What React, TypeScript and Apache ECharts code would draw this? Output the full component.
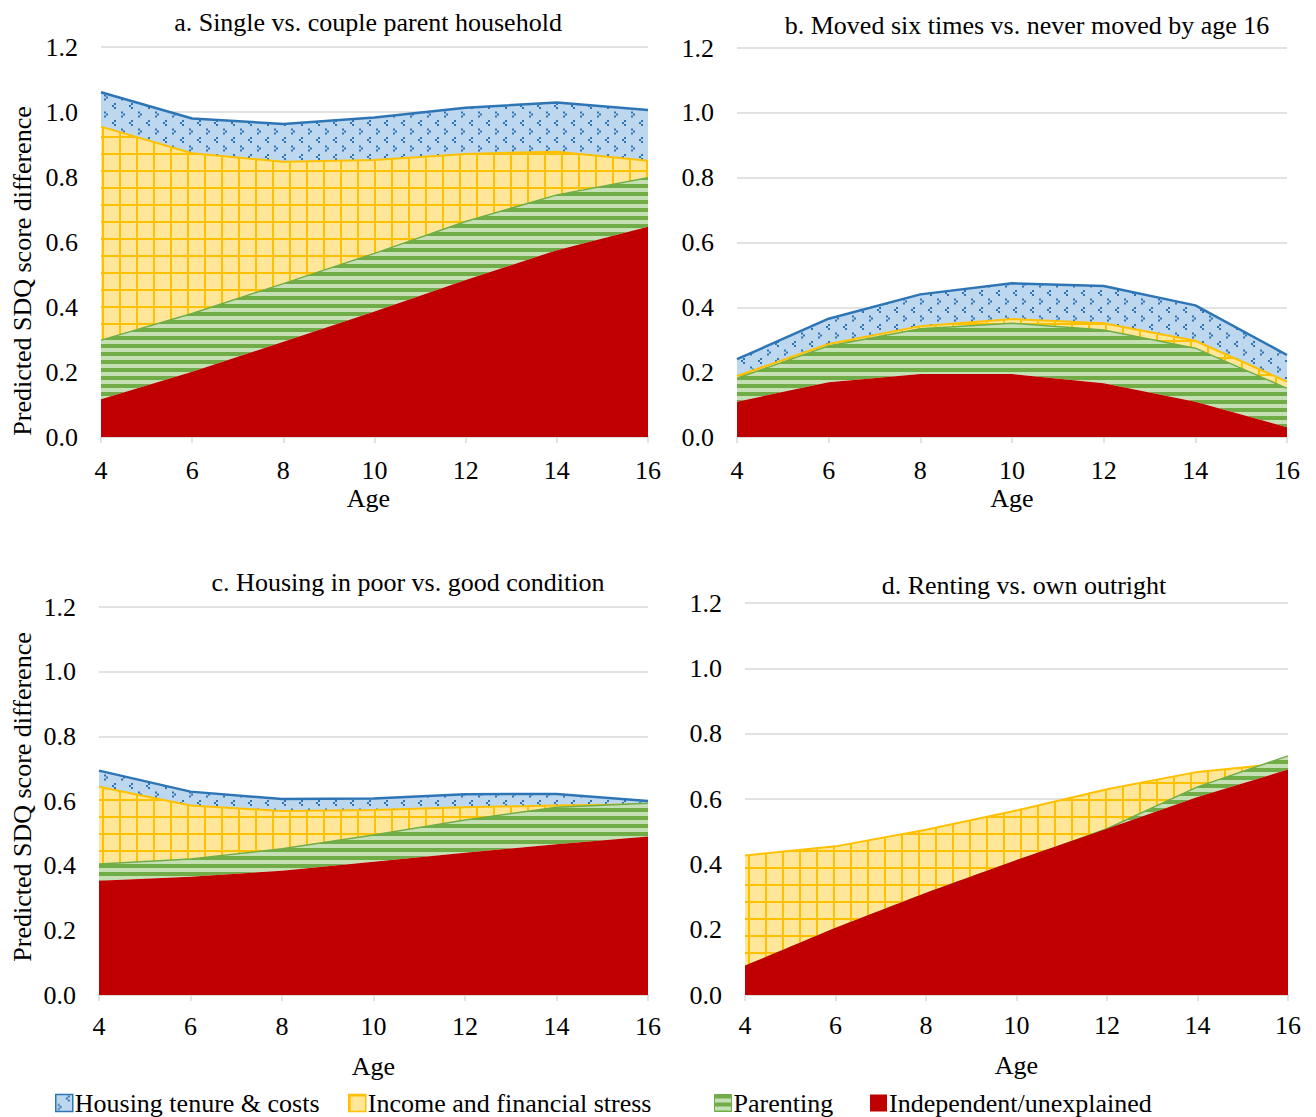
import React, { useEffect, useRef } from 'react';
import * as echarts from 'echarts';

const ages = ['4', '6', '8', '10', '12', '14', '16'];

const seriesNames = [
  'Independent/unexplained',
  'Parenting',
  'Income and financial stress',
  'Housing tenure & costs',
];

const panelTitles = [
  'a. Single vs. couple parent household',
  'b. Moved six times vs. never moved by age 16',
  'c. Housing in poor vs. good condition',
  'd. Renting vs. own outright',
];

const yAxisTitle = 'Predicted SDQ score difference';
const xAxisTitle = 'Age';

// a. Single vs. couple parent household
const independentA = [0.116, 0.201, 0.293, 0.386, 0.483, 0.575, 0.647];
const parentingA = [0.182, 0.179, 0.179, 0.179, 0.18, 0.17, 0.151];
const incomeA = [0.657, 0.493, 0.375, 0.287, 0.208, 0.133, 0.052];
const housingA = [0.106, 0.107, 0.116, 0.131, 0.142, 0.151, 0.156];

// b. Moved six times vs. never moved by age 16
const independentB = [0.109, 0.169, 0.194, 0.194, 0.166, 0.109, 0.03];
const parentingB = [0.072, 0.112, 0.14, 0.157, 0.164, 0.165, 0.12];
const incomeB = [0.007, 0.006, 0.008, 0.013, 0.021, 0.023, 0.021];
const housingB = [0.052, 0.078, 0.098, 0.11, 0.115, 0.109, 0.082];

// c. Housing in poor vs. good condition
const independentC = [0.353, 0.366, 0.384, 0.412, 0.44, 0.466, 0.49];
const parentingC = [0.052, 0.055, 0.068, 0.083, 0.101, 0.115, 0.103];
const incomeC = [0.239, 0.165, 0.117, 0.077, 0.04, 0.005, -0.003];
const housingC = [0.05, 0.043, 0.037, 0.036, 0.04, 0.036, 0.01];

// d. Renting vs. own outright
const independentD = [0.09, 0.206, 0.313, 0.413, 0.509, 0.606, 0.69];
const parentingD = [-0.01, -0.01, -0.01, -0.005, 0.0, 0.031, 0.042];
const incomeD = [0.347, 0.259, 0.203, 0.157, 0.121, 0.046, -0.022];
const housingD = [-0.01, -0.01, -0.01, -0.01, -0.01, -0.01, -0.01];

const panelData = [
  [independentA, parentingA, incomeA, housingA],
  [independentB, parentingB, incomeB, housingB],
  [independentC, parentingC, incomeC, housingC],
  [independentD, parentingD, incomeD, housingD],
];

const FONT = '"Liberation Serif", "Times New Roman", serif';

function makeTile(w: number, h: number, draw: (ctx: CanvasRenderingContext2D) => void) {
  const c = document.createElement('canvas');
  c.width = w;
  c.height = h;
  const ctx = c.getContext('2d') as CanvasRenderingContext2D;
  draw(ctx);
  return { image: c, repeat: 'repeat', imageWidth: w, imageHeight: h } as any;
}

export default function App() {
  const ref = useRef<HTMLDivElement>(null);

  useEffect(() => {
    if (!ref.current) return;

    const bluePattern = makeTile(17, 17, (ctx) => {
      ctx.fillStyle = '#BDD7EE';
      ctx.fillRect(0, 0, 17, 17);
      ctx.fillStyle = '#2E75B6';
      const d = 2;
      // "<"
      ctx.fillRect(12, 1, d, d);
      ctx.fillRect(10, 3, d, d);
      ctx.fillRect(12, 5, d, d);
      // ">"
      ctx.fillRect(2, 9.5, d, d);
      ctx.fillRect(4, 11.5, d, d);
      ctx.fillRect(2, 13.5, d, d);
    });

    const yellowPattern = makeTile(17, 17, (ctx) => {
      ctx.fillStyle = '#FFE699';
      ctx.fillRect(0, 0, 17, 17);
      ctx.fillStyle = '#FFC000';
      ctx.fillRect(0, 0, 2, 17);
      ctx.fillRect(0, 0, 17, 2);
    });

    const greenPattern = makeTile(8, 8, (ctx) => {
      ctx.fillStyle = '#C5E0B4';
      ctx.fillRect(0, 0, 8, 8);
      ctx.fillStyle = '#70AD47';
      ctx.fillRect(0, 0, 8, 4);
    });

    const styles = [
      { fill: '#C00000', line: '#C00000', lineWidth: 0, z: 6 },
      { fill: greenPattern, line: '#70AD47', lineWidth: 1.5, z: 5 },
      { fill: yellowPattern, line: '#FFC000', lineWidth: 2, z: 4 },
      { fill: bluePattern, line: '#2E75B6', lineWidth: 2.5, z: 3 },
    ];

    const grids = [
      { left: 101, top: 47, width: 547, height: 390 },
      { left: 737, top: 48, width: 550, height: 389 },
      { left: 99, top: 607, width: 549, height: 388 },
      { left: 745, top: 603, width: 543, height: 392 },
    ];
    const xLabelMargins = [20, 20, 18, 17];
    const xNameGaps = [48, 48, 58, 57];
    const xNamePadding = [
      [0, 12, 0, 0],
      [0, 0, 0, 0],
      [0, 0, 0, 0],
      [0, 0, 0, 0],
    ];

    const xAxes = grids.map((_, i) => ({
      type: 'category',
      gridIndex: i,
      data: ages,
      boundaryGap: false,
      axisLine: { show: true, lineStyle: { color: '#D9D9D9', width: 1.5 } },
      axisTick: { show: true, length: 6, lineStyle: { color: '#D9D9D9', width: 1.5 } },
      axisLabel: {
        interval: 0,
        color: '#000',
        fontSize: 26,
        fontFamily: FONT,
        margin: xLabelMargins[i],
      },
      splitLine: { show: false },
      name: xAxisTitle,
      nameLocation: 'middle',
      nameGap: xNameGaps[i],
      nameTextStyle: { color: '#000', fontSize: 26, fontFamily: FONT, padding: xNamePadding[i] },
    }));

    const yAxes = grids.map((_, i) => ({
      type: 'value',
      gridIndex: i,
      min: 0,
      max: 1.2,
      interval: 0.2,
      axisLine: { show: false },
      axisTick: { show: false },
      axisLabel: {
        color: '#000',
        fontSize: 26,
        fontFamily: FONT,
        margin: 23,
        formatter: (v: number) => v.toFixed(1),
      },
      splitLine: { show: true, lineStyle: { color: '#D9D9D9', width: 1.5 } },
    }));

    const series: any[] = [];
    panelData.forEach((panel, p) => {
      panel.forEach((values, s) => {
        const st = styles[s];
        series.push({
          type: 'line',
          name: seriesNames[s],
          xAxisIndex: p,
          yAxisIndex: p,
          stack: 'panel' + p,
          stackStrategy: 'all',
          data: values,
          symbol: 'none',
          showSymbol: false,
          z: st.z,
          silent: true,
          itemStyle: { color: st.line },
          lineStyle:
            st.lineWidth > 0
              ? { color: st.line, width: st.lineWidth }
              : { width: 0, opacity: 0 },
          areaStyle: { color: st.fill, opacity: 1 },
          emphasis: { disabled: true },
        });
      });
    });

    const legendPos = [
      { name: 'Housing tenure & costs', left: 55, fill: bluePattern, border: '#2E75B6', bw: 1.5 },
      { name: 'Income and financial stress', left: 348, fill: yellowPattern, border: '#FFC000', bw: 1.5 },
      { name: 'Parenting', left: 714, fill: greenPattern, border: '#70AD47', bw: 1 },
      { name: 'Independent/unexplained', left: 870, fill: '#C00000', border: '#C00000', bw: 0 },
    ];

    const legends = legendPos.map((l) => ({
      left: l.left,
      top: 1090,
      padding: 0,
      icon: 'rect',
      itemWidth: 17,
      itemHeight: 17,
      itemGap: 0,
      selectedMode: false,
      textStyle: { color: '#000', fontSize: 26, fontFamily: FONT, padding: [0, 0, 0, -3] },
      data: [
        {
          name: l.name,
          itemStyle: { color: l.fill, borderColor: l.border, borderWidth: l.bw },
        },
      ],
    }));

    const titlePos = [
      [368, 22],
      [1027, 25],
      [408, 582],
      [1024, 585],
    ];

    const textStyle = (text: string) => ({
      text,
      font: '26px ' + FONT,
      fontSize: 26,
      fontFamily: FONT,
      fill: '#000',
      align: 'center',
      verticalAlign: 'middle',
      textAlign: 'center',
      textVerticalAlign: 'middle',
    });

    const graphic: any[] = titlePos.map((pos, i) => ({
      type: 'text',
      x: pos[0],
      y: pos[1],
      silent: true,
      style: textStyle(panelTitles[i]),
    }));
    graphic.push({
      type: 'text',
      x: 22,
      y: 271,
      rotation: Math.PI / 2,
      silent: true,
      style: textStyle(yAxisTitle),
    });
    graphic.push({
      type: 'text',
      x: 22,
      y: 797,
      rotation: Math.PI / 2,
      silent: true,
      style: textStyle(yAxisTitle),
    });

    const chart = echarts.init(ref.current, null, { renderer: 'svg' });
    chart.setOption({
      animation: false,
      backgroundColor: '#fff',
      grid: grids,
      xAxis: xAxes,
      yAxis: yAxes,
      legend: legends,
      series,
      graphic,
    } as any);

    return () => {
      chart.dispose();
    };
  }, []);

  return (
    <div
      ref={ref}
      style={{ position: 'absolute', left: 0, top: 0, width: 1316, height: 1117 }}
    />
  );
}
